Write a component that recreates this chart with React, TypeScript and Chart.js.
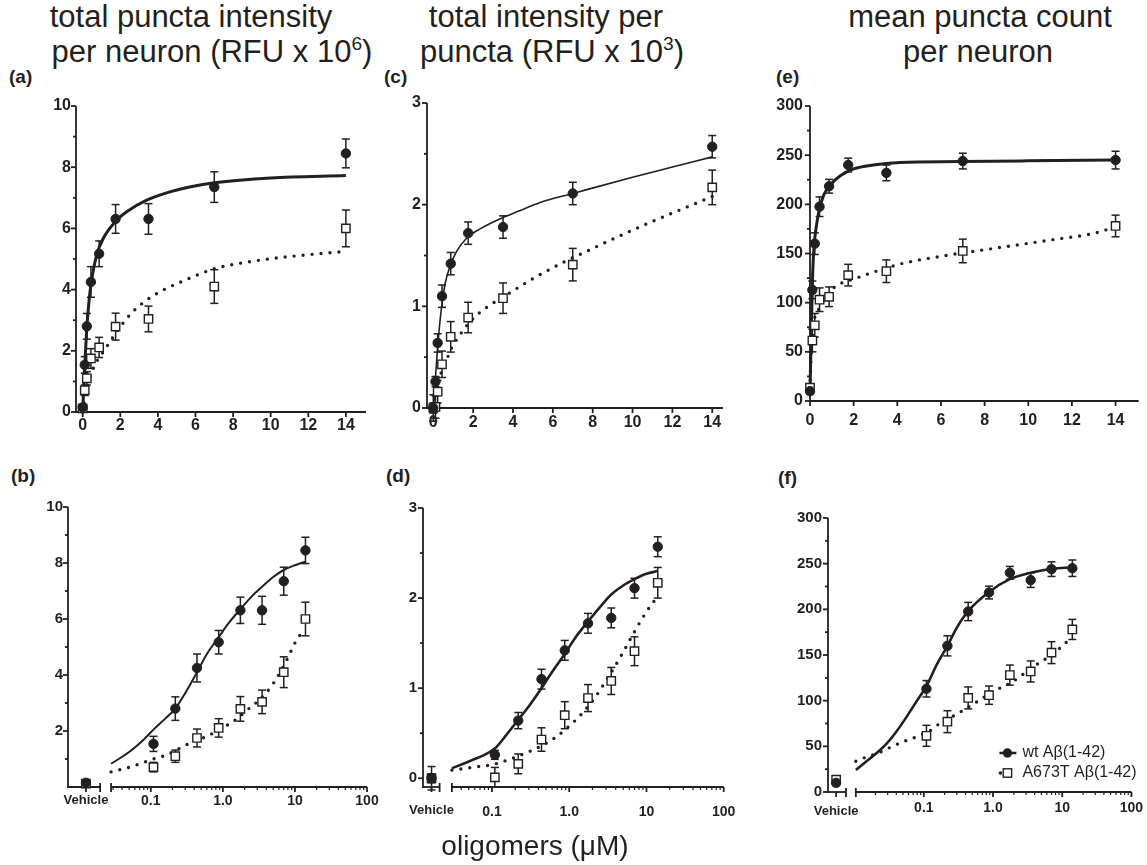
import React, { useEffect, useRef } from 'react';
import { Chart, registerables } from 'chart.js';

Chart.register(...registerables);

// ---------------- data ----------------
const CONC = [0, 0.109, 0.219, 0.4375, 0.875, 1.75, 3.5, 7, 14];
const LIN_X_TICKS = [0, 2, 4, 6, 8, 10, 12, 14];
const LOG_X_TICKS = [0.1, 1, 10, 100];
const LOG_X_LABELS = ['0.1', '1.0', '10', '100'];
const VEHICLE_LABEL = 'Vehicle';
const SERIES_NAMES = ['wt Aβ(1-42)', 'A673T Aβ(1-42)'];

const Y_TICKS_INT = [0, 2, 4, 6, 8, 10];
const Y_TICKS_INT_LOG = [2, 4, 6, 8, 10];
const Y_MINOR_INT = [1, 3, 5, 7, 9];
const Y_TICKS_PP = [0, 1, 2, 3];
const Y_MINOR_PP = [0.5, 1.5, 2.5];
const Y_TICKS_CNT = [0, 50, 100, 150, 200, 250, 300];
const Y_MINOR_CNT = [25, 75, 125, 175, 225, 275];

// total puncta intensity per neuron (RFU x 10^6)
const INT_WT = [0.15, 1.54, 2.8, 4.25, 5.17, 6.31, 6.31, 7.35, 8.45];
const INT_WT_ERR = [0.05, 0.27, 0.42, 0.5, 0.42, 0.47, 0.5, 0.5, 0.47];
const INT_MUT = [0.12, 0.71, 1.1, 1.75, 2.11, 2.79, 3.04, 4.1, 6.0];
const INT_MUT_ERR = [0.05, 0.17, 0.22, 0.32, 0.33, 0.44, 0.42, 0.55, 0.6];

// total intensity per puncta (RFU x 10^3)
const PP_WT = [0, 0.26, 0.64, 1.1, 1.42, 1.72, 1.78, 2.11, 2.57];
const PP_WT_ERR = [0.05, 0.05, 0.09, 0.11, 0.11, 0.11, 0.11, 0.11, 0.11];
const PP_MUT = [0, 0.01, 0.16, 0.43, 0.7, 0.89, 1.08, 1.41, 2.17];
const PP_MUT_ERR = [0.13, 0.11, 0.11, 0.13, 0.15, 0.15, 0.15, 0.16, 0.17];

// mean puncta count per neuron
const CNT_WT = [10, 113, 160, 197.6, 218.4, 240, 232, 244, 245];
const CNT_WT_ERR = [3, 9, 11, 10, 7, 7, 8, 8, 9];
const CNT_MUT = [13.5, 61.5, 77, 103, 106, 128, 132, 152.6, 178];
const CNT_MUT_ERR = [4, 11.5, 12, 12, 10, 11, 11.5, 12, 11];

// fitted curves (linear-axis panels)
const FIT_A_WT_X = [0, 0.07, 0.125, 0.21, 0.34, 0.46, 0.75, 1.1, 1.73, 2.36, 3.43, 4.68, 5.75, 7, 10, 14];
const FIT_A_WT_Y = [0, 1.0, 1.7, 2.65, 3.65, 4.25, 5.14, 5.68, 6.22, 6.55, 6.93, 7.2, 7.36, 7.49, 7.65, 7.73];
const FIT_A_MUT_X = [0, 0.1, 0.2, 0.35, 0.57, 1.18, 1.96, 2.62, 3.39, 4.23, 5.04, 7, 9.08, 10.86, 14];
const FIT_A_MUT_Y = [0, 0.4, 0.7, 1.05, 1.44, 2.04, 2.75, 3.25, 3.65, 3.97, 4.2, 4.68, 4.93, 5.07, 5.25];

const FIT_C_WT_X = [0, 0.109, 0.2, 0.28, 0.42, 0.58, 0.83, 1.17, 1.67, 2.33, 3.33, 4.33, 5.33, 7, 10, 12, 14];
const FIT_C_WT_Y = [0, 0.3, 0.55, 0.74, 1.0, 1.21, 1.39, 1.54, 1.67, 1.76, 1.86, 1.94, 2.02, 2.11, 2.27, 2.37, 2.47];
const FIT_C_MUT_X = [0, 0.08, 0.17, 0.42, 0.72, 0.92, 1.2, 1.76, 2.34, 2.84, 3.9, 5.07, 6.6, 7.47, 9.1, 10.7, 12.4, 14];
const FIT_C_MUT_Y = [0, 0.11, 0.21, 0.36, 0.5, 0.59, 0.68, 0.83, 0.94, 1.01, 1.14, 1.28, 1.44, 1.52, 1.67, 1.81, 1.95, 2.08];

const FIT_E_WT_X = [0, 0.05, 0.076, 0.12, 0.18, 0.26, 0.41, 0.64, 0.94, 1.39, 2, 2.9, 4.12, 6.85, 9.9, 14];
const FIT_E_WT_Y = [11, 60, 87, 128, 156, 173, 193, 210, 220, 229, 236, 240, 242.5, 243.5, 244.2, 245];
const FIT_E_MUT_X = [0, 0.05, 0.12, 0.23, 0.38, 0.73, 1.14, 2.13, 2.97, 4.26, 6.1, 8.2, 9.6, 11.1, 12.9, 14];
const FIT_E_MUT_Y = [12, 45, 68, 86, 92.5, 106, 116, 125, 131.5, 140, 147.5, 154.5, 159, 164, 170, 177];

// fitted curves (log-axis panels)
const FIT_B_WT_X = [0.0281, 0.05, 0.08, 0.109, 0.16, 0.219, 0.3, 0.4375, 0.6, 0.875, 1.2, 1.75, 2.5, 3.5, 5, 7, 10, 14];
const FIT_B_WT_Y = [0.83, 1.25, 1.7, 2.05, 2.45, 2.8, 3.35, 4.1, 4.75, 5.35, 5.85, 6.35, 6.8, 7.15, 7.5, 7.75, 7.92, 8.05];
const FIT_B_MUT_X = [0.0281, 0.0464, 0.0711, 0.109, 0.167, 0.255, 0.391, 0.6, 0.918, 1.41, 2.15, 3.3, 5.05, 7.74, 10.6, 14];
const FIT_B_MUT_Y = [0.54, 0.68, 0.83, 1.0, 1.15, 1.39, 1.63, 1.81, 2.07, 2.35, 2.74, 3.14, 3.71, 4.55, 5.26, 5.65];

const FIT_D_WT_X = [0.0303, 0.055, 0.08, 0.109, 0.15, 0.219, 0.3, 0.4375, 0.6, 0.875, 1.2, 1.75, 2.5, 3.5, 5, 7, 10, 14];
const FIT_D_WT_Y = [0.11, 0.2, 0.26, 0.33, 0.47, 0.65, 0.8, 1.0, 1.18, 1.38, 1.56, 1.74, 1.9, 2.04, 2.14, 2.21, 2.27, 2.3];
const FIT_D_MUT_X = [0.0303, 0.045, 0.067, 0.1, 0.144, 0.21, 0.31, 0.46, 0.68, 1.0, 1.47, 2.17, 3.19, 4.7, 6.92, 10.2, 14];
const FIT_D_MUT_Y = [0.09, 0.11, 0.13, 0.15, 0.19, 0.24, 0.3, 0.37, 0.46, 0.58, 0.72, 0.9, 1.12, 1.36, 1.62, 1.86, 2.02];

const FIT_F_WT_X = [0.0104, 0.015, 0.021, 0.029, 0.04, 0.056, 0.078, 0.109, 0.155, 0.219, 0.3, 0.4375, 0.875, 1.75, 3.5, 7, 14];
const FIT_F_WT_Y = [24, 34, 43, 53, 66, 82, 99, 116, 140, 160, 180, 198, 219, 233, 240, 244.5, 246];
const FIT_F_MUT_X = [0.0104, 0.0133, 0.0208, 0.0324, 0.05, 0.078, 0.122, 0.17, 0.31, 0.44, 0.64, 1.0, 1.94, 3.77, 5.9, 9.16, 14];
const FIT_F_MUT_Y = [33.7, 37, 42, 48.7, 55, 60.4, 67, 75, 86, 93, 100.6, 110, 121, 137, 146.4, 157.3, 170];

// ---------------- layout / style ----------------
const INK = '#231f20';
const AX_W = 64;
const AX_H = 44;
const PAD_T = 12;
const FONT = '"Liberation Sans", Arial, Helvetica, sans-serif';

type FitXY = { x: number[]; y: number[] };
interface PanelCfg {
  id: string;
  log: boolean;
  area: [number, number, number, number];
  padR: number;
  xMin: number; xMax: number; yMin: number; yMax: number;
  yTicks: number[]; yMinor: number[];
  yLabelPad: number; xLabelPad: number;
  yFontSize: number; xFontSize: number;
  vehicleX?: number; segEnd?: number; segStart?: number; vehicleDy?: number;
  wt: number[]; wtErr: number[]; mut: number[]; mutErr: number[];
  fitWt: FitXY; fitMut: FitXY; wtLine: number;
  legend?: boolean;
}

const PANELS: PanelCfg[] = [
  {
    id: 'a', log: false, area: [76, 106, 366, 412], padR: 14,
    xMin: -0.356, xMax: 15.07, yMin: 0, yMax: 10,
    yTicks: Y_TICKS_INT, yMinor: Y_MINOR_INT, yLabelPad: 0, xLabelPad: -1,
    yFontSize: 16, xFontSize: 16,
    wt: INT_WT, wtErr: INT_WT_ERR, mut: INT_MUT, mutErr: INT_MUT_ERR,
    fitWt: { x: FIT_A_WT_X, y: FIT_A_WT_Y }, fitMut: { x: FIT_A_MUT_X, y: FIT_A_MUT_Y }, wtLine: 3,
  },
  {
    id: 'c', log: false, area: [427, 103, 723, 408], padR: 14,
    xMin: -0.316, xMax: 14.54, yMin: 0, yMax: 3,
    yTicks: Y_TICKS_PP, yMinor: Y_MINOR_PP, yLabelPad: 1, xLabelPad: -0.5,
    yFontSize: 16, xFontSize: 16,
    wt: PP_WT, wtErr: PP_WT_ERR, mut: PP_MUT, mutErr: PP_MUT_ERR,
    fitWt: { x: FIT_C_WT_X, y: FIT_C_WT_Y }, fitMut: { x: FIT_C_MUT_X, y: FIT_C_MUT_Y }, wtLine: 1.6,
  },
  {
    id: 'e', log: false, area: [810, 106, 1140, 401], padR: 6,
    xMin: 0, xMax: 15.06, yMin: 0, yMax: 300,
    yTicks: Y_TICKS_CNT, yMinor: Y_MINOR_CNT, yLabelPad: 2, xLabelPad: 4.5,
    yFontSize: 16, xFontSize: 16,
    wt: CNT_WT, wtErr: CNT_WT_ERR, mut: CNT_MUT, mutErr: CNT_MUT_ERR,
    fitWt: { x: FIT_E_WT_X, y: FIT_E_WT_Y }, fitMut: { x: FIT_E_MUT_X, y: FIT_E_MUT_Y }, wtLine: 3,
  },
  {
    id: 'b', log: true, area: [68, 507, 367, 787], padR: 14,
    xMin: 0.0071, xMax: 100, yMin: 0, yMax: 10,
    yTicks: Y_TICKS_INT_LOG, yMinor: Y_MINOR_INT, yLabelPad: 0, xLabelPad: 1,
    yFontSize: 15, xFontSize: 14,
    vehicleX: 0.0126, segEnd: 0.0198, segStart: 0.0281, vehicleDy: 13,
    wt: INT_WT, wtErr: INT_WT_ERR, mut: INT_MUT, mutErr: INT_MUT_ERR,
    fitWt: { x: FIT_B_WT_X, y: FIT_B_WT_Y }, fitMut: { x: FIT_B_MUT_X, y: FIT_B_MUT_Y }, wtLine: 2,
  },
  {
    id: 'd', log: true, area: [423, 508, 733, 787], padR: 14,
    xMin: 0.0128, xMax: 100, yMin: -0.097, yMax: 3,
    yTicks: Y_TICKS_PP, yMinor: Y_MINOR_PP, yLabelPad: 1, xLabelPad: 11.6,
    yFontSize: 15, xFontSize: 14,
    vehicleX: 0.0165, segEnd: 0.021, segStart: 0.0303, vehicleDy: 23,
    wt: PP_WT, wtErr: PP_WT_ERR, mut: PP_MUT, mutErr: PP_MUT_ERR,
    fitWt: { x: FIT_D_WT_X, y: FIT_D_WT_Y }, fitMut: { x: FIT_D_MUT_X, y: FIT_D_MUT_Y }, wtLine: 2.6,
  },
  {
    id: 'f', log: true, area: [828, 518, 1132, 792], padR: 14,
    xMin: 0.00412, xMax: 100, yMin: 0, yMax: 300,
    yTicks: Y_TICKS_CNT, yMinor: Y_MINOR_CNT, yLabelPad: 1, xLabelPad: 2.9,
    yFontSize: 15, xFontSize: 14,
    vehicleX: 0.0054, segEnd: 0.0075, segStart: 0.0104, vehicleDy: 19,
    wt: CNT_WT, wtErr: CNT_WT_ERR, mut: CNT_MUT, mutErr: CNT_MUT_ERR,
    fitWt: { x: FIT_F_WT_X, y: FIT_F_WT_Y }, fitMut: { x: FIT_F_MUT_X, y: FIT_F_MUT_Y }, wtLine: 2.6,
    legend: true,
  },
];

function PanelChart({ cfg }: { cfg: PanelCfg }) {
  const ref = useRef<HTMLCanvasElement | null>(null);

  useEffect(() => {
    if (!ref.current) return;
    const xOf = (i: number) => (CONC[i] === 0 && cfg.log ? (cfg.vehicleX as number) : CONC[i]);
    const pts = (vals: number[]) => vals.map((v, i) => ({ x: xOf(i), y: v }));
    const curve = (f: FitXY) => f.x.map((x, i) => ({ x, y: f.y[i] }));

    const deco = {
      id: 'deco_' + cfg.id,
      beforeDatasetsDraw(chart: any) {
        const ctx = chart.ctx;
        const xs = chart.scales.x;
        const ys = chart.scales.y;
        const { left, right, top, bottom } = chart.chartArea;
        const seg = (x1: number, y1: number, x2: number, y2: number) => {
          ctx.beginPath();
          ctx.moveTo(x1, y1);
          ctx.lineTo(x2, y2);
          ctx.stroke();
        };
        ctx.save();
        ctx.strokeStyle = INK;
        ctx.lineCap = 'butt';
        ctx.lineWidth = 1.8;
        seg(left, top, left, bottom + 0.9);
        cfg.yTicks.forEach((v) => { const y = ys.getPixelForValue(v); seg(left - 5, y, left, y); });
        cfg.yMinor.forEach((v) => { const y = ys.getPixelForValue(v); seg(left - 3, y, left, y); });
        if (!cfg.log) {
          seg(left - 0.9, bottom, right, bottom);
          LIN_X_TICKS.forEach((v) => { const x = xs.getPixelForValue(v); seg(x, bottom, x, bottom + 5); });
        } else {
          const e = xs.getPixelForValue(cfg.segEnd);
          const s = xs.getPixelForValue(cfg.segStart);
          seg(left - 0.9, bottom, e, bottom);
          seg(s, bottom, right, bottom);
          seg(e, bottom - 4, e, bottom + 5);
          seg(s, bottom - 4, s, bottom + 5);
          const vx = xs.getPixelForValue(cfg.vehicleX);
          seg(vx, bottom, vx, bottom + 5);
          LOG_X_TICKS.forEach((v) => { const x = xs.getPixelForValue(v); seg(x, bottom, x, bottom + 5); });
          ctx.lineWidth = 1.2;
          for (let d = -3; d < 2; d++) {
            for (let m = 2; m <= 9; m++) {
              const v = m * Math.pow(10, d);
              if (v > (cfg.segStart as number) && v < 100) {
                const x = xs.getPixelForValue(v);
                seg(x, bottom, x, bottom + 3);
              }
            }
          }
        }
        // error bars
        ctx.lineWidth = 1.5;
        [0, 1].forEach((di) => {
          const ds = chart.data.datasets[di];
          ds.data.forEach((p: any, i: number) => {
            const err = ds.errors[i];
            const x = xs.getPixelForValue(p.x);
            const y1 = ys.getPixelForValue(p.y + err);
            const y2 = ys.getPixelForValue(p.y - err);
            seg(x, y1, x, y2);
            seg(x - 4, y1, x + 4, y1);
            seg(x - 4, y2, x + 4, y2);
          });
        });
        ctx.restore();
      },
      afterDatasetsDraw(chart: any) {
        const ctx = chart.ctx;
        const xs = chart.scales.x;
        const { right, bottom } = chart.chartArea;
        ctx.save();
        ctx.fillStyle = INK;
        if (cfg.log) {
          ctx.font = 'bold 13px ' + FONT;
          ctx.textAlign = 'center';
          ctx.textBaseline = 'middle';
          ctx.fillText(VEHICLE_LABEL, xs.getPixelForValue(cfg.vehicleX), bottom + (cfg.vehicleDy as number));
        }
        if (cfg.legend) {
          const x1 = right - 132;
          const x2 = right - 115;
          const mx = right - 124;
          const r1 = bottom - 39;
          const r2 = bottom - 19;
          ctx.strokeStyle = INK;
          ctx.lineWidth = 2.5;
          ctx.beginPath(); ctx.moveTo(x1, r1); ctx.lineTo(x2, r1); ctx.stroke();
          ctx.beginPath(); ctx.arc(mx, r1, 4.7, 0, Math.PI * 2); ctx.fill();
          ctx.beginPath(); ctx.arc(x1 + 1, r2, 1.8, 0, Math.PI * 2); ctx.fill();
          ctx.fillStyle = '#fff';
          ctx.lineWidth = 1.4;
          ctx.fillRect(mx - 4.2, r2 - 4.2, 8.4, 8.4);
          ctx.strokeRect(mx - 4.2, r2 - 4.2, 8.4, 8.4);
          ctx.fillStyle = INK;
          ctx.font = '16px ' + FONT;
          ctx.textAlign = 'left';
          ctx.textBaseline = 'middle';
          ctx.fillText(SERIES_NAMES[0], right - 109, r1);
          ctx.fillText(SERIES_NAMES[1], right - 109, r2);
        }
        ctx.restore();
      },
    };

    const chart = new Chart(ref.current, {
      type: 'scatter',
      data: {
        datasets: [
          {
            label: SERIES_NAMES[0], data: pts(cfg.wt), errors: cfg.wtErr,
            pointStyle: 'circle', pointRadius: 4.7, backgroundColor: INK, borderColor: INK, borderWidth: 1,
            order: 0, clip: false,
          },
          {
            label: SERIES_NAMES[1], data: pts(cfg.mut), errors: cfg.mutErr,
            pointStyle: 'rect', pointRadius: 5.9, backgroundColor: '#ffffff', borderColor: INK, borderWidth: 1.4,
            order: 1, clip: false,
          },
          {
            label: 'fit wt', data: curve(cfg.fitWt), showLine: true, pointRadius: 0,
            borderColor: INK, borderWidth: cfg.wtLine, cubicInterpolationMode: 'monotone',
            order: 2, clip: false,
          },
          {
            label: 'fit A673T', data: curve(cfg.fitMut), showLine: true, pointRadius: 0,
            borderColor: INK, borderWidth: 3.4, borderDash: [0, 9], borderCapStyle: 'round',
            cubicInterpolationMode: 'monotone', order: 3, clip: false,
          },
        ],
      },
      options: {
        animation: false,
        responsive: true,
        maintainAspectRatio: false,
        events: [],
        layout: { padding: { left: 0, top: PAD_T, right: cfg.padR, bottom: 0 } },
        plugins: { legend: { display: false }, tooltip: { enabled: false } },
        scales: {
          x: {
            type: cfg.log ? 'logarithmic' : 'linear',
            min: cfg.xMin,
            max: cfg.xMax,
            afterFit: (s: any) => { s.height = AX_H; },
            afterBuildTicks: (s: any) => {
              s.ticks = (cfg.log ? LOG_X_TICKS : LIN_X_TICKS).map((v) => ({ value: v }));
            },
            grid: { display: true, drawOnChartArea: false, drawTicks: true, tickLength: 5, color: 'rgba(0,0,0,0)' },
            border: { display: false },
            ticks: {
              autoSkip: false, maxRotation: 0, minRotation: 0, padding: cfg.xLabelPad, color: INK,
              font: { family: FONT, size: cfg.xFontSize, weight: 'bold' },
              callback: (v: any, i: number) => (cfg.log ? LOG_X_LABELS[i] : String(v)),
            },
          },
          y: {
            type: 'linear',
            min: cfg.yMin,
            max: cfg.yMax,
            afterFit: (s: any) => { s.width = AX_W; },
            afterBuildTicks: (s: any) => { s.ticks = cfg.yTicks.map((v) => ({ value: v })); },
            grid: { display: true, drawOnChartArea: false, drawTicks: true, tickLength: 5, color: 'rgba(0,0,0,0)' },
            border: { display: false },
            ticks: {
              autoSkip: false, padding: cfg.yLabelPad, color: INK,
              font: { family: FONT, size: cfg.yFontSize, weight: 'bold' },
              callback: (v: any) => String(v),
            },
          },
        },
      },
      plugins: [deco],
    } as any);
    return () => chart.destroy();
  }, [cfg]);

  const [L, T, R, B] = cfg.area;
  return (
    <div
      style={{
        position: 'absolute',
        left: L - AX_W,
        top: T - PAD_T,
        width: R - L + AX_W + cfg.padR,
        height: B - T + PAD_T + AX_H,
      }}
    >
      <canvas ref={ref} />
    </div>
  );
}

const titleStyle: React.CSSProperties = {
  position: 'absolute',
  width: 420,
  textAlign: 'center',
  font: '31px "Liberation Sans", Arial, Helvetica, sans-serif',
  lineHeight: '34px',
  color: INK,
  whiteSpace: 'nowrap',
};
const supStyle: React.CSSProperties = { fontSize: '0.62em', verticalAlign: '0.6em', lineHeight: 0 };
const letterStyle: React.CSSProperties = {
  position: 'absolute',
  font: 'bold 19px "Liberation Sans", Arial, Helvetica, sans-serif',
  color: INK,
  lineHeight: '20px',
};

function Line({ cx, top, children }: { cx: number; top: number; children: React.ReactNode }) {
  return <div style={{ ...titleStyle, left: cx - 210, top }}>{children}</div>;
}

export default function App() {
  return (
    <div style={{ position: 'absolute', left: 0, top: 0, width: 1147, height: 865, overflow: 'hidden', background: '#fff' }}>
      <Line cx={191} top={0}>total puncta intensity</Line>
      <Line cx={212} top={35}>per neuron (RFU x 10<span style={supStyle}>6</span>)</Line>
      <Line cx={546} top={0}>total intensity per</Line>
      <Line cx={552} top={35}>puncta (RFU x 10<span style={supStyle}>3</span>)</Line>
      <Line cx={980} top={0}>mean puncta count</Line>
      <Line cx={978} top={35}>per neuron</Line>

      <div style={{ ...letterStyle, left: 9, top: 67 }}>(a)</div>
      <div style={{ ...letterStyle, left: 384, top: 67 }}>(c)</div>
      <div style={{ ...letterStyle, left: 776, top: 67 }}>(e)</div>
      <div style={{ ...letterStyle, left: 11, top: 466 }}>(b)</div>
      <div style={{ ...letterStyle, left: 386, top: 466 }}>(d)</div>
      <div style={{ ...letterStyle, left: 778, top: 468 }}>(f)</div>

      {PANELS.map((p) => (
        <PanelChart key={p.id} cfg={p} />
      ))}

      <div
        style={{
          position: 'absolute',
          left: 335,
          width: 400,
          top: 830,
          textAlign: 'center',
          font: '28px "Liberation Sans", Arial, Helvetica, sans-serif',
          lineHeight: '32px',
          color: INK,
        }}
      >
        oligomers (μM)
      </div>
    </div>
  );
}
